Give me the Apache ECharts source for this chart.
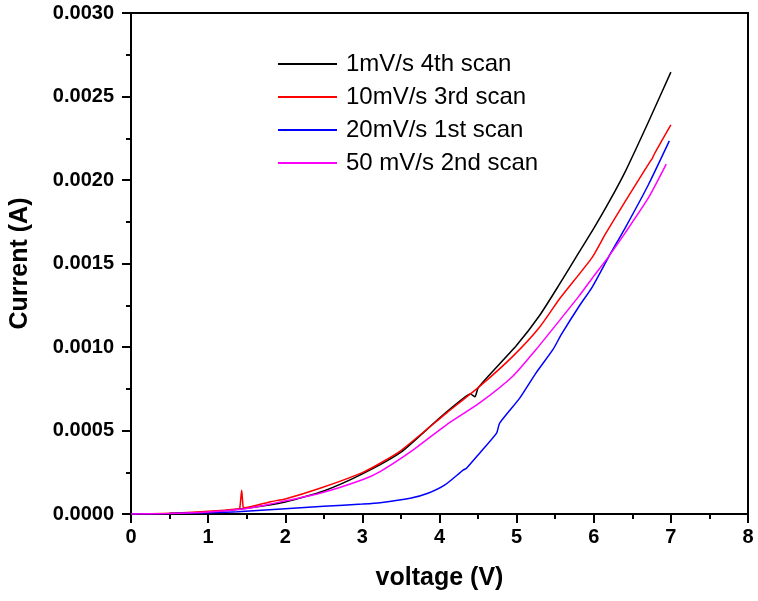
<!DOCTYPE html>
<html>
<head>
<meta charset="utf-8">
<script src="https://cdn.jsdelivr.net/npm/echarts@6/dist/echarts.min.js"></script>
<style>html,body{margin:0;padding:0;background:#fff}#c{width:758px;height:601px}</style>
</head>
<body>
<div id="c"></div>
<script>
const seriesNames = ['1mV/s 4th scan', '10mV/s 3rd scan', '20mV/s 1st scan', '50 mV/s 2nd scan'];

const blackV = [0, 0.5, 1.0, 1.5, 2.0, 2.5, 3.0, 3.5, 4.0, 4.3, 4.4, 4.46, 4.5, 4.65, 5.0, 5.3, 5.56, 5.8, 6.0, 6.2, 6.41, 6.71, 7.0];
const blackI = [0, 0.000003, 0.000012, 0.000035, 0.000072, 0.000138, 0.00024, 0.00037, 0.000575, 0.00069, 0.000718, 0.000702, 0.000754, 0.000834, 0.00101, 0.00119, 0.001379, 0.00156, 0.00171, 0.00187, 0.002052, 0.002349, 0.002646];

const redV = [0, 0.5, 1.0, 1.38, 1.41, 1.435, 1.455, 1.48, 1.81, 2.0, 2.45, 3.0, 3.23, 3.5, 4.09, 4.52, 4.95, 5.3, 5.56, 5.98, 6.15, 6.41, 6.73, 6.76, 6.79, 7.0];
const redI = [0, 0.000004, 0.000016, 0.000030, 0.000036, 0.000142, 0.00004, 0.000038, 0.000074, 0.00009, 0.000154, 0.000248, 0.000304, 0.00038, 0.000604, 0.000764, 0.000944, 0.00112, 0.00129, 0.001537, 0.001676, 0.001874, 0.00211, 0.00213, 0.00216, 0.00233];

const blueV = [0, 0.5, 1.0, 1.38, 2.0, 2.5, 3.0, 3.23, 3.62, 3.85, 4.07, 4.31, 4.35, 4.52, 4.74, 4.78, 5.04, 5.25, 5.47, 5.58, 5.81, 5.98, 6.19, 6.41, 6.71, 6.98];
const blueI = [0, 0.000003, 0.000008, 0.000014, 0.000032, 0.000046, 0.00006, 0.000068, 0.000094, 0.000124, 0.000174, 0.000264, 0.000274, 0.000364, 0.000484, 0.000544, 0.000694, 0.000844, 0.000984, 0.001075, 0.001244, 0.001359, 0.001537, 0.001715, 0.001973, 0.002234];

const magentaV = [0, 0.5, 1.0, 1.5, 1.81, 2.45, 3.0, 3.23, 3.66, 4.09, 4.52, 4.95, 5.25, 5.56, 5.8, 5.98, 6.19, 6.41, 6.71, 6.94];
const magentaI = [0, 0.000003, 0.000012, 0.000033, 0.00006, 0.000124, 0.000205, 0.000254, 0.000384, 0.000534, 0.000665, 0.000825, 0.000984, 0.001161, 0.0013, 0.001412, 0.00154, 0.001685, 0.001894, 0.002095];

const colors = ['#000000', '#ff0000', '#0000ff', '#ff00ff'];
const xs = [blackV, redV, blueV, magentaV];
const ys = [blackI, redI, blueI, magentaI];

const font = '"Liberation Sans", Arial, sans-serif';
const chart = echarts.init(document.getElementById('c'), null, {renderer: 'canvas'});

const series = seriesNames.map((n, k) => ({
  name: n,
  type: 'line',
  data: xs[k].map((v, i) => [v, ys[k][i]]),
  showSymbol: false,
  smooth: 0.2,
  lineStyle: {color: colors[k], width: 1.5},
  itemStyle: {color: colors[k]},
  animation: false
}));

chart.setOption({
  animation: false,
  backgroundColor: '#fff',
  grid: {left: 130, right: 10, top: 13, bottom: 87, show: true, borderColor: '#000', borderWidth: 2, backgroundColor: 'transparent'},
  legend: {
    orient: 'vertical',
    left: 273,
    top: 47,
    itemWidth: 59,
    itemHeight: 2,
    itemGap: 9,
    icon: 'rect',
    textStyle: {fontFamily: font, fontSize: 24, color: '#000', padding: [0, 0, 0, 4], lineHeight: 24},
    data: seriesNames.map((n, k) => ({name: n, itemStyle: {color: colors[k]}}))
  },
  xAxis: {
    type: 'value', min: 0, max: 8, interval: 1,
    name: 'voltage (V)', nameLocation: 'middle', nameGap: 52,
    nameTextStyle: {fontFamily: font, fontSize: 25, fontWeight: 'bold', color: '#000'},
    axisLine: {show: true, lineStyle: {color: '#000', width: 2}},
    axisTick: {show: true, inside: false, length: 9, lineStyle: {color: '#000', width: 2}},
    minorTick: {show: true, splitNumber: 2, length: 5, lineStyle: {color: '#000', width: 2}},
    axisLabel: {fontFamily: font, fontSize: 20, fontWeight: 'bold', color: '#000', margin: 13},
    splitLine: {show: false}
  },
  yAxis: {
    type: 'value', min: 0, max: 0.003, interval: 0.0005,
    name: 'Current (A)', nameLocation: 'middle', nameGap: 98,
    nameTextStyle: {fontFamily: font, fontSize: 25, fontWeight: 'bold', color: '#000'},
    axisLine: {show: true, lineStyle: {color: '#000', width: 2}},
    axisTick: {show: true, inside: false, length: 9, lineStyle: {color: '#000', width: 2}},
    minorTick: {show: true, splitNumber: 2, length: 5, lineStyle: {color: '#000', width: 2}},
    axisLabel: {fontFamily: font, fontSize: 20, fontWeight: 'bold', color: '#000', margin: 17, formatter: v => v.toFixed(4)},
    splitLine: {show: false}
  },
  series: series
});
</script>
</body>
</html>
